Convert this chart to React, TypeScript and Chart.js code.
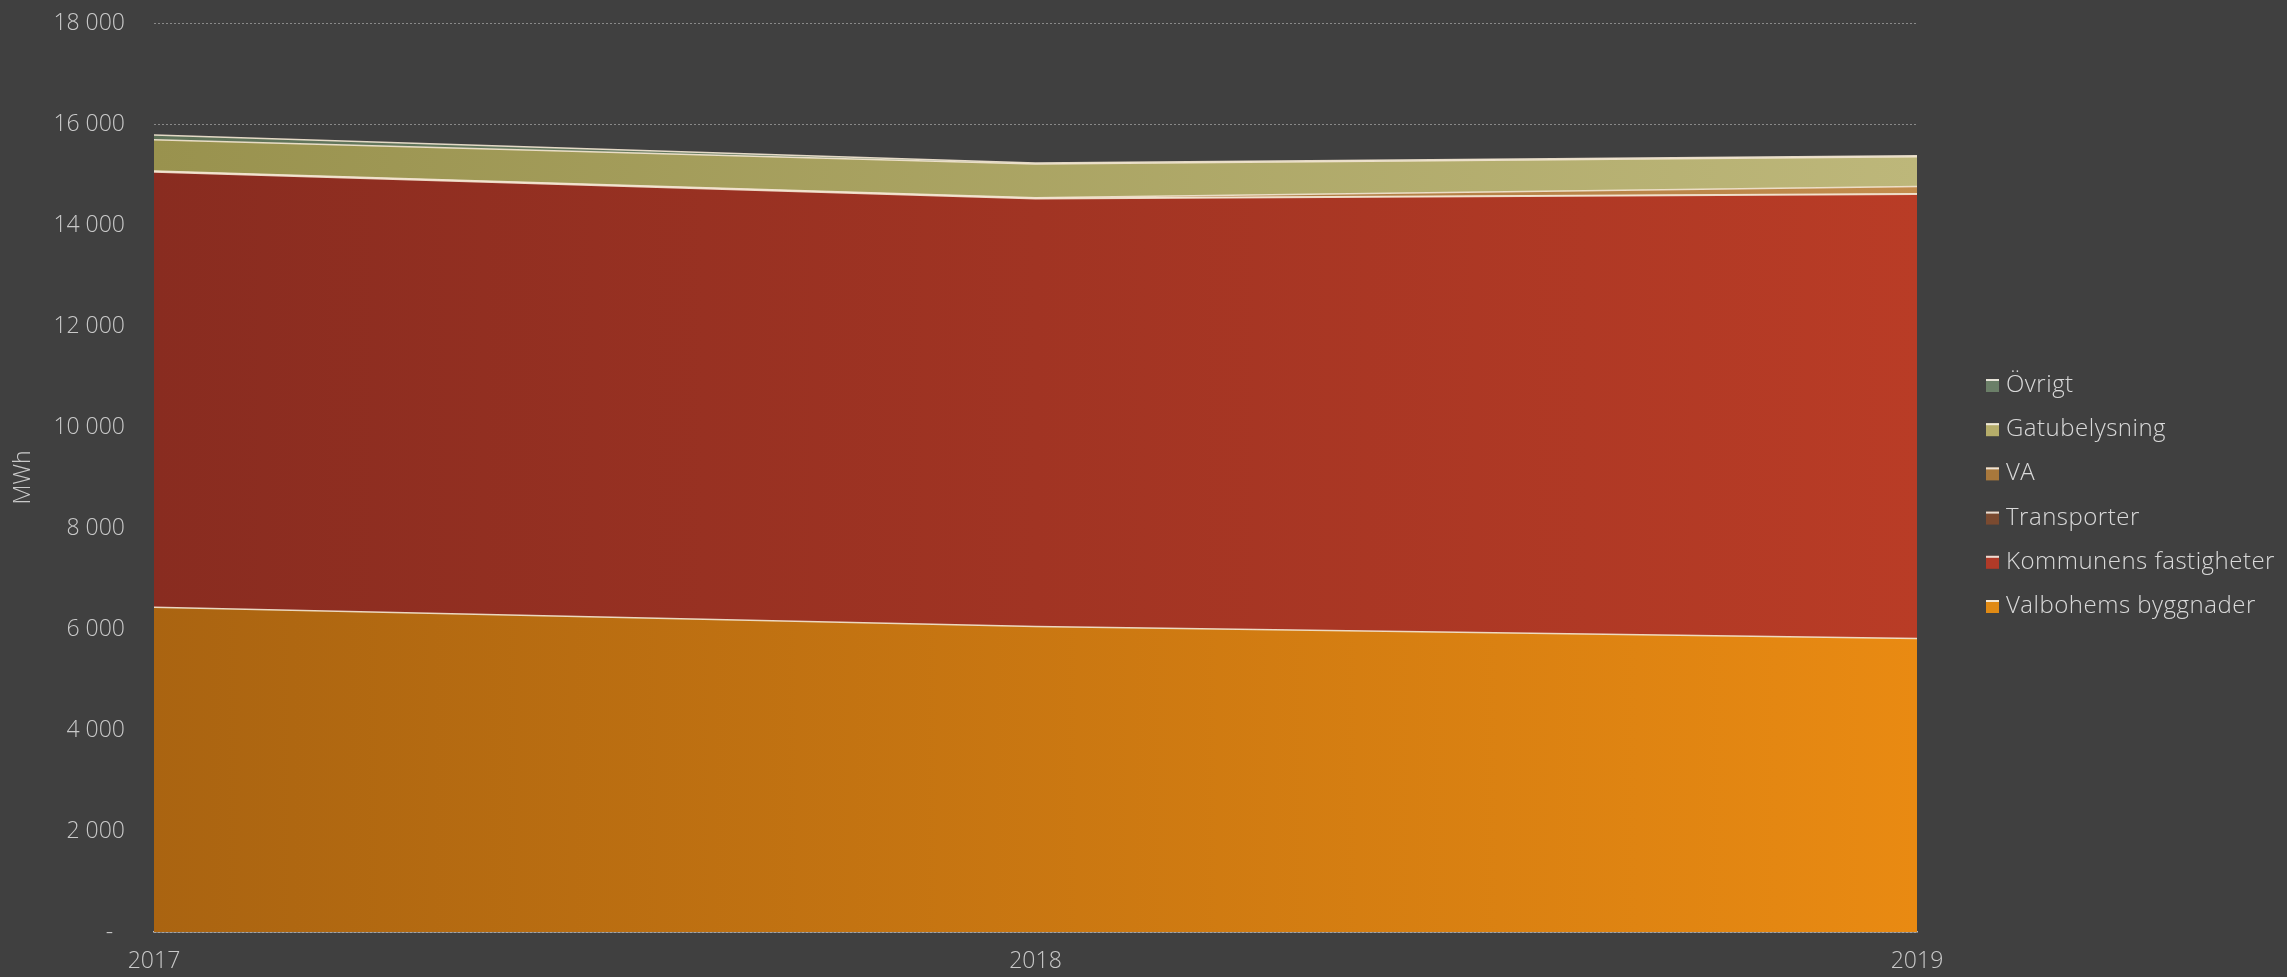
import { useEffect, useRef } from "react";
import { Chart, registerables } from "chart.js";

Chart.register(...registerables);

// Energy use per sector, MWh
const years = ["2017", "2018", "2019"];
const valbohemsByggnader = [6430, 6050, 5810];
const kommunensFastigheter = [8620, 8470, 8800];
const transporter = [10, 10, 10];
const va = [10, 10, 140];
const gatubelysning = [620, 670, 590];
const ovrigt = [90, 20, 20];

const seriesNames = [
  "Valbohems byggnader",
  "Kommunens fastigheter",
  "Transporter",
  "VA",
  "Gatubelysning",
  "Övrigt",
];
const seriesValues = [valbohemsByggnader, kommunensFastigheter, transporter, va, gatubelysning, ovrigt];

// fill gradient (left colour, right colour) and legend swatch colour per series
const seriesStyles = [
  { from: "#aa6411", to: "#e98a12", swatch: "#e08a14" },
  { from: "#892c20", to: "#b93c26", swatch: "#b03a28" },
  { from: "#6a3e26", to: "#8e5532", swatch: "#7a4a30" },
  { from: "#8e6534", to: "#c28b4c", swatch: "#a8783c" },
  { from: "#99924e", to: "#bdb77a", swatch: "#b5ad6a" },
  { from: "#5e7258", to: "#7c927a", swatch: "#6b7f68" },
];

const FONT = '"Open Sans", "Noto Sans", sans-serif';
const TEXT = "#c9c9c9";

function horizontalGradient(from: string, to: string) {
  return (ctx: any) => {
    const chart = ctx.chart;
    const area = chart.chartArea;
    if (!area) return from;
    const g = chart.ctx.createLinearGradient(area.left, 0, area.right, 0);
    g.addColorStop(0, from);
    g.addColorStop(1, to);
    return g;
  };
}

function formatThousands(v: number): string {
  if (v === 0) return "-  ";
  return String(v).replace(/\B(?=(\d{3})+(?!\d))/g, " ");
}

// Legend drawn to the right of the plot, top item = last series
const sideLegend = {
  id: "sideLegend",
  afterDraw(chart: any) {
    const { ctx, chartArea } = chart;
    const boxX = chartArea.right + 69;
    const textX = chartArea.right + 89;
    const firstBaseline = 392;
    const step = 44.2;
    ctx.save();
    ctx.font = `300 24px ${FONT}`;
    ctx.textAlign = "left";
    ctx.textBaseline = "alphabetic";
    try {
      (ctx as any).letterSpacing = "0.5px";
    } catch (e) {
      /* letterSpacing unsupported */
    }
    const order = seriesNames.map((_, i) => i).reverse();
    order.forEach((si, row) => {
      const base = firstBaseline + row * step;
      const top = base - 13;
      ctx.fillStyle = seriesStyles[si].swatch;
      ctx.fillRect(boxX, top, 13, 13);
      ctx.fillStyle = "rgba(245,240,230,0.9)";
      ctx.fillRect(boxX, top, 13, 2);
      ctx.fillStyle = "#d9d9d9";
      ctx.fillText(seriesNames[si], textX, base);
    });
    ctx.restore();
  },
};

export default function App() {
  const canvasRef = useRef<HTMLCanvasElement | null>(null);

  useEffect(() => {
    if (!canvasRef.current) return;
    const chart = new Chart(canvasRef.current, {
      type: "line",
      data: {
        labels: years,
        datasets: seriesNames.map((name, i) => ({
          label: name,
          data: seriesValues[i],
          fill: i === 0 ? "origin" : "-1",
          backgroundColor: horizontalGradient(seriesStyles[i].from, seriesStyles[i].to),
          borderColor: "rgba(245,232,212,0.9)",
          borderWidth: 1.5,
          pointRadius: 0,
          pointHoverRadius: 0,
          tension: 0,
        })),
      },
      options: {
        responsive: false,
        animation: false,
        devicePixelRatio: 1,
        layout: { padding: { left: 0, right: 370, top: 0, bottom: 0 } },
        plugins: {
          legend: { display: false },
          tooltip: { enabled: false },
        },
        scales: {
          x: {
            offset: false,
            z: 1,
            grid: { display: false, drawTicks: false },
            border: { display: true, color: "#bdbdbd", width: 1.5 },
            ticks: {
              color: TEXT,
              font: { family: FONT, size: 23, weight: "300" },
              padding: 16,
              maxRotation: 0,
              autoSkip: false,
            },
            afterFit: (scale: any) => {
              scale.height = 45;
            },
          },
          y: {
            stacked: true,
            min: 0,
            max: 18000,
            grid: { color: "rgba(150,150,150,0.85)", lineWidth: 1, drawTicks: false },
            border: { display: false, dash: [2, 2] },
            ticks: {
              stepSize: 2000,
              color: TEXT,
              font: { family: FONT, size: 23, weight: "300" },
              padding: 29,
              callback: (v: any) => formatThousands(Number(v)),
            },
            title: {
              display: true,
              text: "MWh",
              color: TEXT,
              font: { family: FONT, size: 23, weight: "300" },
              padding: { top: 10, bottom: 0 },
            },
            afterFit: (scale: any) => {
              scale.width = 154;
              scale.paddingTop = 23;
              scale.paddingBottom = 0;
            },
          },
        },
      },
      plugins: [sideLegend],
    });
    return () => chart.destroy();
  }, []);

  return (
    <div
      style={{
        position: "absolute",
        left: 0,
        top: 0,
        width: 2287,
        height: 977,
        background: "#404040",
      }}
    >
      <canvas ref={canvasRef} width={2287} height={977} style={{ display: "block" }} />
    </div>
  );
}
